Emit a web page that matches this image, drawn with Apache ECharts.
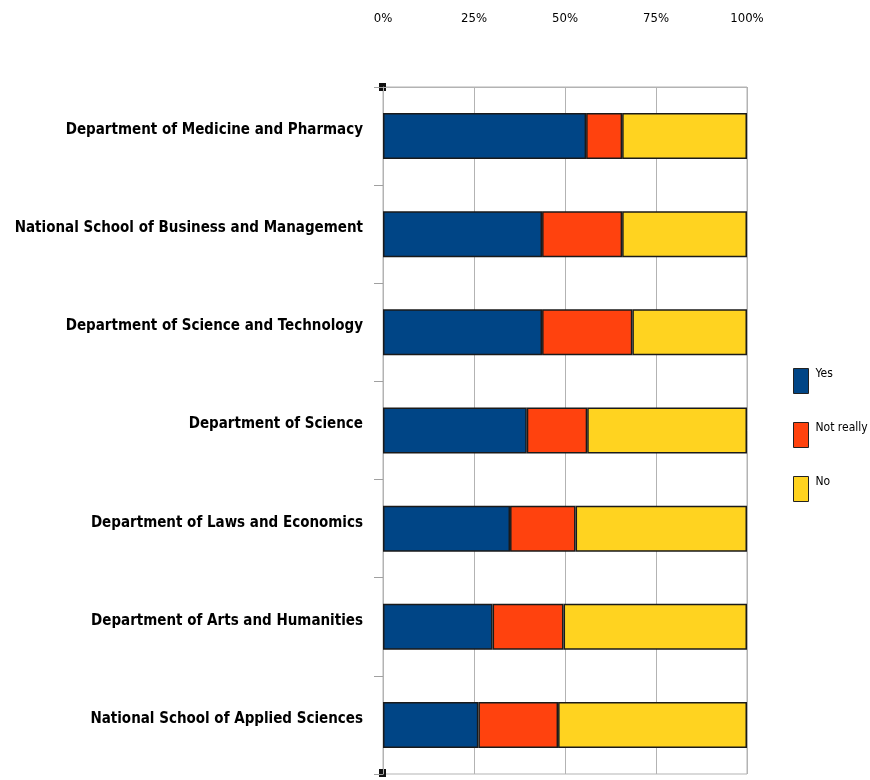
<!DOCTYPE html>
<html>
<head>
<meta charset="utf-8">
<script src="https://cdn.jsdelivr.net/npm/echarts@6/dist/echarts.min.js"></script>
<style>html,body{margin:0;padding:0;background:#fff}#c{width:870px;height:780px}</style>
</head>
<body>
<div id="c"></div>
<script>
const categories = [
  "Department of Medicine and Pharmacy",
  "National School of Business and Management",
  "Department of Science and Technology",
  "Department of Science",
  "Department of Laws and Economics",
  "Department of Arts and Humanities",
  "National School of Applied Sciences"
];
const yesValues = [55.8, 43.7, 43.7, 39.5, 34.9, 30.1, 26.2];
const notReallyValues = [9.9, 22.0, 24.8, 16.6, 18.0, 19.5, 21.9];
const noValues = [34.3, 34.3, 31.5, 43.9, 47.1, 50.4, 51.9];
const seriesNames = ["Yes", "Not really", "No"];
const tickValues = [0, 25, 50, 75, 100];

const colors = ["#004586", "#ff420e", "#ffd320"];
const font = "'DejaVu Sans Condensed',sans-serif";
const chart = echarts.init(document.getElementById('c'), null, {renderer: 'canvas'});
const seriesData = [yesValues, notReallyValues, noValues];
chart.setOption({
  animation: false,
  backgroundColor: '#fff',
  color: colors,
  grid: {left: 383, right: 123, top: 87, bottom: 6, show: true, borderColor: '#b3b3b3', borderWidth: 1, containLabel: false, outerBoundsMode: 'none'},
  legend: {
    orient: 'vertical', left: 793, top: 368, padding: 0,
    itemWidth: 15, itemHeight: 25, itemGap: 28,
    icon: 'rect',
    itemStyle: {borderColor: '#222', borderWidth: 1},
    formatter: n => '{t|' + n + '}',
    textStyle: {
      fontFamily: font, fontSize: 12, color: '#000',
      rich: {t: {fontFamily: font, fontSize: 12, color: '#000', padding: [0, 0, 14, 2]}}
    },
    data: seriesNames
  },
  xAxis: {
    type: 'value', position: 'top', min: tickValues[0], max: tickValues[tickValues.length - 1], interval: 25,
    axisLine: {show: true, lineStyle: {color: '#b3b3b3'}},
    axisTick: {show: false},
    axisLabel: {formatter: '{value}%', margin: 62, fontFamily: font, fontSize: 13, color: '#000'},
    splitLine: {show: true, lineStyle: {color: '#b3b3b3', width: 1}}
  },
  yAxis: {
    type: 'category', inverse: true, data: categories,
    axisLine: {show: true, lineStyle: {color: '#b3b3b3'}},
    axisTick: {show: true, length: 9, lineStyle: {color: '#a0a0a0'}},
    axisLabel: {
      margin: 20, fontFamily: font, fontWeight: 'bold', fontSize: 15, color: '#000',
      formatter: v => '{t|' + v + '}',
      rich: {t: {fontFamily: font, fontWeight: 'bold', fontSize: 15, color: '#000', padding: [0, 0, 12, 0]}}
    }
  },
  series: seriesNames.map((n, i) => ({
    name: n, type: 'bar', stack: 'total', barWidth: 46,
    data: seriesData[i],
    itemStyle: {color: colors[i], borderColor: '#1a1a1a', borderWidth: 1.5}
  })),
  graphic: [
    {type: 'rect', shape: {x: 379, y: 83, width: 7, height: 8}, style: {fill: '#111'}},
    {type: 'rect', shape: {x: 379, y: 769, width: 7, height: 8}, style: {fill: '#111'}}
  ]
});
</script>
</body>
</html>
